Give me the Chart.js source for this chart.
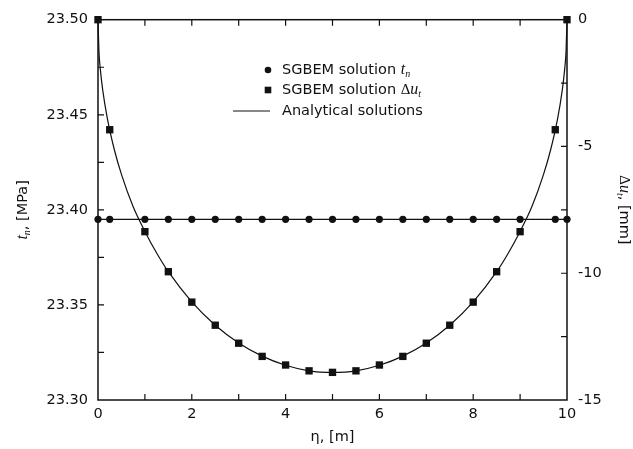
<!DOCTYPE html>
<html>
<head>
<meta charset="utf-8">
<script src="https://cdn.jsdelivr.net/npm/chart.js@4.4.1/dist/chart.umd.min.js"></script>
<style>
  html, body { margin: 0; padding: 0; background: #fff; }
  #wrap { width: 633px; height: 449px; }
</style>
</head>
<body>
<div id="wrap"><canvas id="grafico"></canvas></div>
<script>
// SGBEM nodes along the crack (eta, m)
const etaSgbem = [0, 0.25, 1, 1.5, 2, 2.5, 3, 3.5, 4, 4.5, 5, 5.5, 6, 6.5, 7, 7.5, 8, 8.5, 9, 9.75, 10];
// normal traction t_n [MPa]
const tnSgbem = [23.395, 23.395, 23.395, 23.395, 23.395, 23.395, 23.395, 23.395, 23.395, 23.395, 23.395,
                 23.395, 23.395, 23.395, 23.395, 23.395, 23.395, 23.395, 23.395, 23.395, 23.395];
// tangential opening Delta u_t [mm]
const duSgbem = [0, -4.34, -8.36, -9.94, -11.14, -12.05, -12.76, -13.28, -13.62, -13.85, -13.91,
                 -13.85, -13.62, -13.28, -12.76, -12.05, -11.14, -9.94, -8.36, -4.34, 0];

// analytical curves
const etaTnLine = [0, 10];
const tnLine = [23.395, 23.395];
const etaCurve = [0, 0.02, 0.05, 0.1, 0.2, 0.35, 0.5, 0.75, 1, 1.25, 1.5, 2, 2.5, 3, 3.5, 4, 4.5, 5,
                  5.5, 6, 6.5, 7, 7.5, 8, 8.5, 8.75, 9, 9.25, 9.5, 9.65, 9.8, 9.9, 9.95, 9.98, 10];
const duCurve = [0, -1.24, -1.96, -2.77, -3.90, -5.14, -6.10, -7.38, -8.35, -9.20, -9.94, -11.13, -12.05,
                 -12.75, -13.27, -13.63, -13.85, -13.91, -13.85, -13.63, -13.27, -12.75, -12.05, -11.13,
                 -9.94, -9.20, -8.35, -7.38, -6.10, -5.14, -3.90, -2.77, -1.96, -1.24, 0];

const SANS = "'DejaVu Sans', sans-serif";
const SERIF = "'Liberation Serif', serif";
const INK = "#111";

function pts(xs, ys) { return xs.map((x, i) => ({ x: x, y: ys[i] })); }

// draw a run of text pieces, each {t, font, dy}
function richText(ctx, parts, x, y, align) {
  let w = 0;
  parts.forEach(p => { ctx.font = p.font; p.w = ctx.measureText(p.t).width; w += p.w; });
  let cx = align === "center" ? x - w / 2 : x;
  ctx.textAlign = "left";
  ctx.textBaseline = "middle";
  parts.forEach(p => {
    ctx.font = p.font;
    ctx.fillText(p.t, cx, y + (p.dy || 0));
    cx += p.w;
  });
}

const moldura = {
  id: "moldura",
  beforeDatasetsDraw(chart) {
    const { ctx, chartArea: a, scales } = chart;
    ctx.save();
    ctx.strokeStyle = INK;
    ctx.lineWidth = 1.5;
    ctx.strokeRect(a.left, a.top, a.right - a.left, a.bottom - a.top);
    ctx.lineWidth = 1.2;
    ctx.beginPath();
    for (let v = 1; v < 10; v++) {
      const px = scales.x.getPixelForValue(v);
      ctx.moveTo(px, a.bottom); ctx.lineTo(px, a.bottom - 6);
      ctx.moveTo(px, a.top); ctx.lineTo(px, a.top + 6);
    }
    for (let i = 1; i < 8; i++) {
      const py = scales.y.getPixelForValue(23.3 + i * 0.025);
      ctx.moveTo(a.left, py); ctx.lineTo(a.left + 6, py);
    }
    for (let i = 1; i < 6; i++) {
      const py = scales.y2.getPixelForValue(-15 + i * 2.5);
      ctx.moveTo(a.right, py); ctx.lineTo(a.right - 6, py);
    }
    ctx.stroke();
    ctx.restore();
  },
  afterDraw(chart) {
    const { ctx, chartArea: a } = chart;
    ctx.save();
    ctx.fillStyle = INK;
    ctx.strokeStyle = INK;

    // legend
    const lx = 268, tx = 282;
    ctx.beginPath(); ctx.arc(lx, 70, 3.3, 0, Math.PI * 2); ctx.fill();
    ctx.fillRect(lx - 3.3, 90 - 3.3, 6.6, 6.6);
    ctx.lineWidth = 1; ctx.beginPath(); ctx.moveTo(233, 111); ctx.lineTo(270, 111); ctx.stroke();
    richText(ctx, [
      { t: "SGBEM solution ", font: "14.5px " + SANS },
      { t: "t", font: "italic 16px " + SERIF },
      { t: "n", font: "italic 10px " + SERIF, dy: 4 }
    ], tx, 70, "left");
    richText(ctx, [
      { t: "SGBEM solution ", font: "14.5px " + SANS },
      { t: "\u0394", font: "15px " + SERIF },
      { t: "u", font: "italic 16px " + SERIF },
      { t: "t", font: "italic 10px " + SERIF, dy: 4 }
    ], tx, 90, "left");
    richText(ctx, [{ t: "Analytical solutions", font: "14.5px " + SANS }], tx, 111, "left");

    // axis titles
    richText(ctx, [{ t: "\u03b7, [m]", font: "14.5px " + SANS }], (a.left + a.right) / 2, 437, "center");
    const cy = (a.top + a.bottom) / 2;
    ctx.save();
    ctx.translate(23, cy); ctx.rotate(-Math.PI / 2);
    richText(ctx, [
      { t: "t", font: "italic 16px " + SERIF },
      { t: "n", font: "italic 10px " + SERIF, dy: 4 },
      { t: ", [MPa]", font: "14.5px " + SANS }
    ], 0, 0, "center");
    ctx.restore();
    ctx.save();
    ctx.translate(624, cy); ctx.rotate(Math.PI / 2);
    richText(ctx, [
      { t: "\u0394", font: "15px " + SERIF },
      { t: "u", font: "italic 16px " + SERIF },
      { t: "t", font: "italic 10px " + SERIF, dy: 4 },
      { t: ", [mm]", font: "14.5px " + SANS }
    ], 0, 0, "center");
    ctx.restore();
    ctx.restore();
  }
};

const tickFont = { family: SANS, size: 14.5 };

new Chart(document.getElementById("grafico").getContext("2d"), {
  type: "scatter",
  data: {
    datasets: [
      {
        label: "Analytical t_n",
        data: pts(etaTnLine, tnLine),
        yAxisID: "y",
        showLine: true,
        borderColor: INK,
        borderWidth: 1.2,
        pointRadius: 0,
        clip: false
      },
      {
        label: "Analytical du_t",
        data: pts(etaCurve, duCurve),
        yAxisID: "y2",
        showLine: true,
        borderColor: INK,
        borderWidth: 1.2,
        pointRadius: 0,
        cubicInterpolationMode: "monotone",
        clip: false
      },
      {
        label: "SGBEM t_n",
        data: pts(etaSgbem, tnSgbem),
        yAxisID: "y",
        pointStyle: "circle",
        pointRadius: 3.6,
        backgroundColor: INK,
        borderColor: INK,
        borderWidth: 0,
        clip: false
      },
      {
        label: "SGBEM du_t",
        data: pts(etaSgbem, duSgbem),
        yAxisID: "y2",
        pointStyle: "rect",
        pointRadius: 5.2,
        backgroundColor: INK,
        borderColor: INK,
        borderWidth: 0,
        clip: false
      }
    ]
  },
  options: {
    responsive: true,
    maintainAspectRatio: false,
    animation: false,
    layout: { padding: { top: 14, left: 0, right: 0, bottom: 0 } },
    plugins: { legend: { display: false }, tooltip: { enabled: false } },
    scales: {
      x: {
        type: "linear",
        min: 0, max: 10,
        afterFit(s) { s.height = 49; },
        grid: { display: false, drawTicks: false },
        border: { display: false },
        ticks: { stepSize: 2, autoSkip: false, maxRotation: 0, padding: 6, color: INK, font: tickFont }
      },
      y: {
        position: "left",
        min: 23.3, max: 23.5,
        afterFit(s) { s.width = 98; },
        grid: { display: false, drawTicks: false },
        border: { display: false },
        ticks: {
          stepSize: 0.05, autoSkip: false, padding: 10, color: INK, font: tickFont,
          callback: v => v.toFixed(2)
        }
      },
      y2: {
        position: "right",
        min: -15, max: 0,
        afterFit(s) { s.width = 66; },
        grid: { display: false, drawTicks: false },
        border: { display: false },
        ticks: { stepSize: 5, autoSkip: false, padding: 11, color: INK, font: tickFont }
      }
    }
  },
  plugins: [moldura]
});
</script>
</body>
</html>
